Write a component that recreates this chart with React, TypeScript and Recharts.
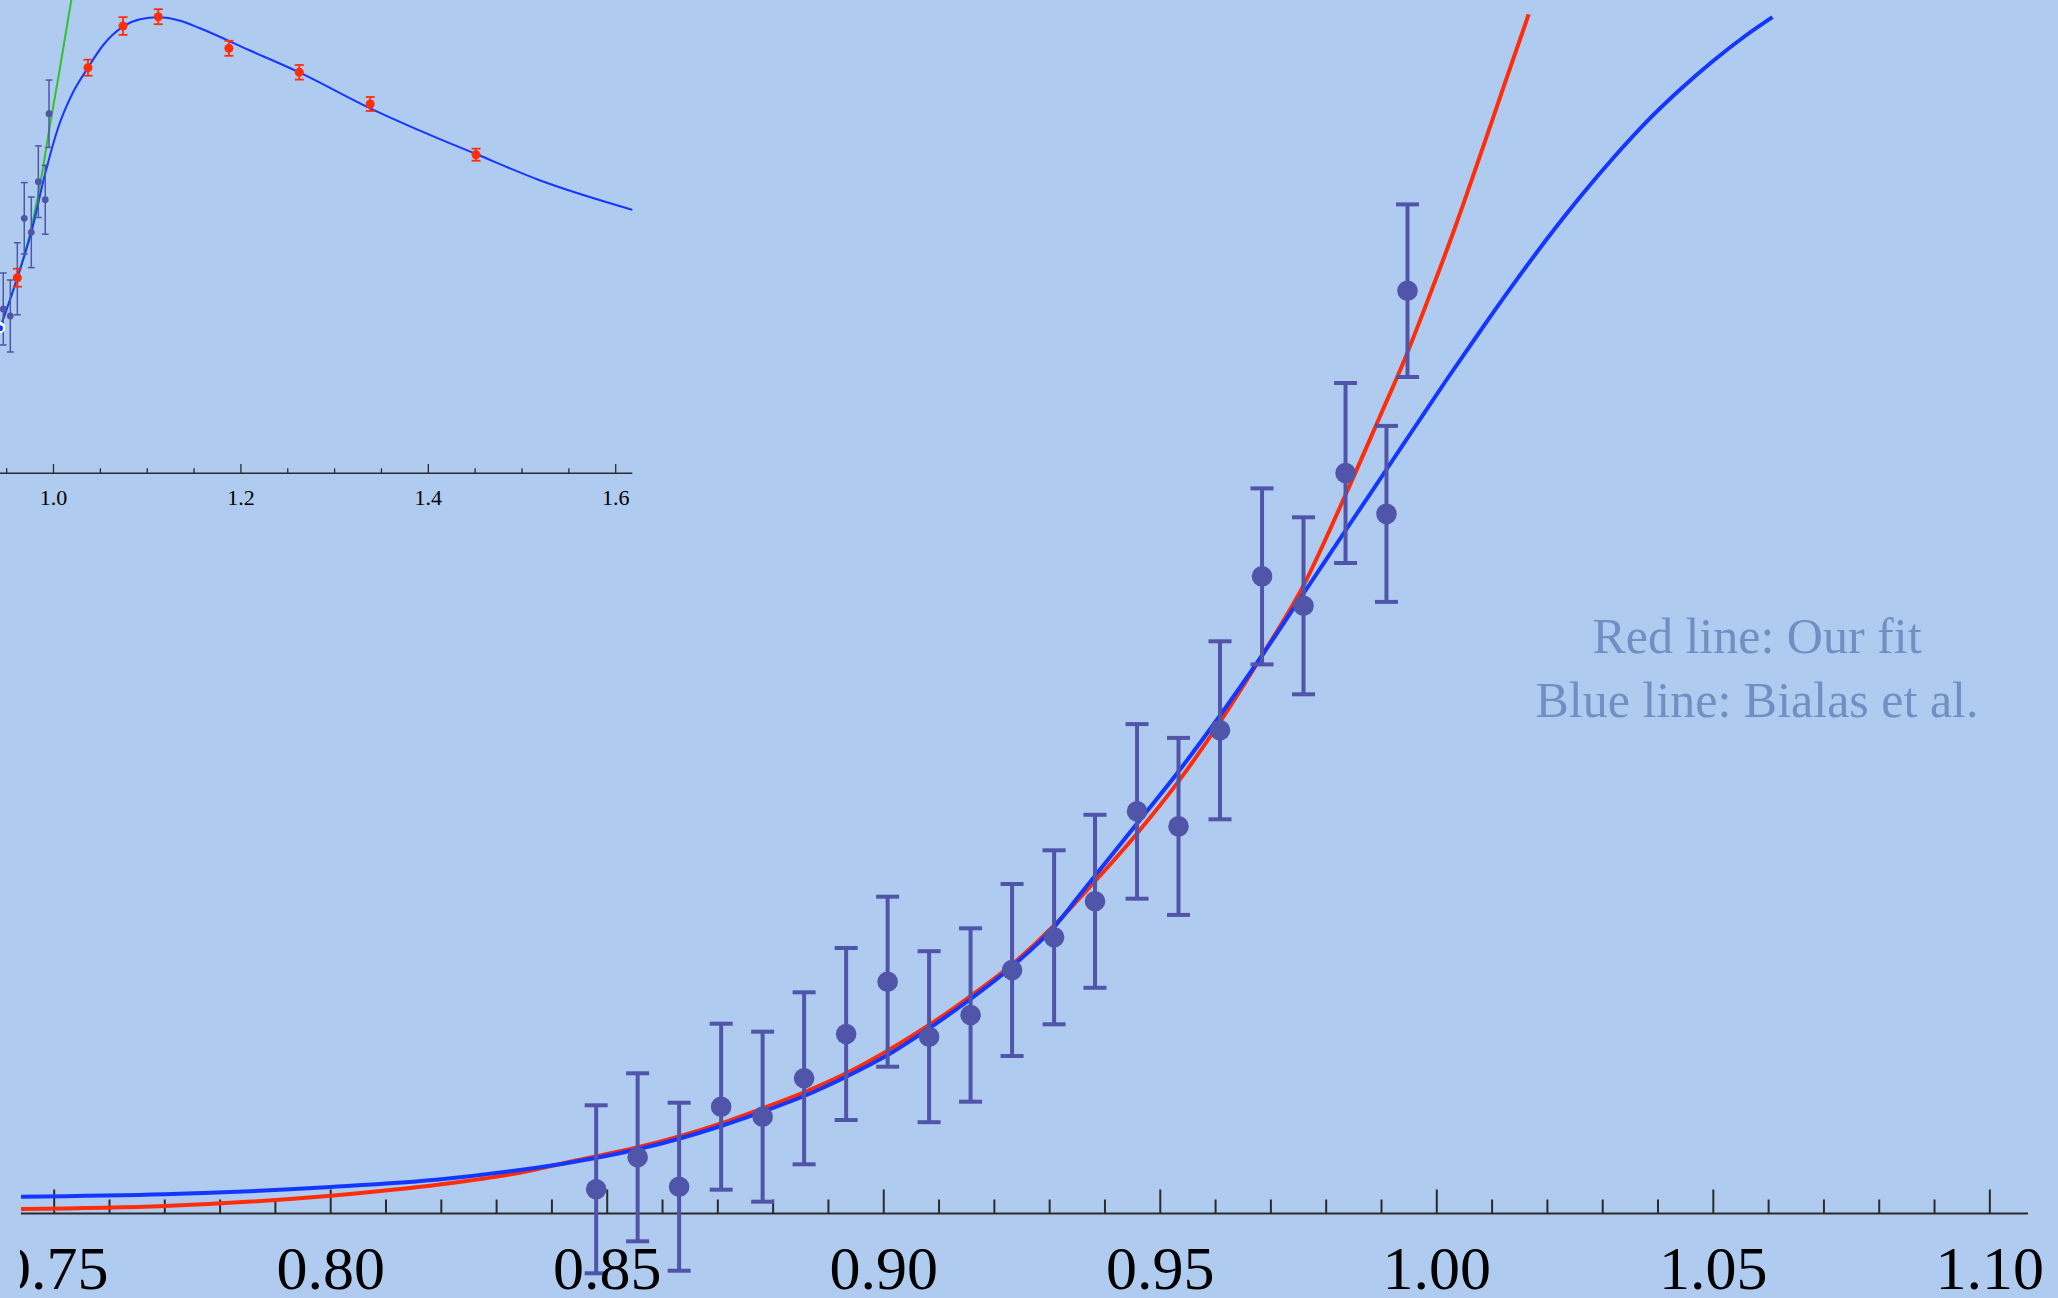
import React from "react";
import { ComposedChart, ErrorBar, Line, ReferenceLine, Scatter, XAxis, YAxis } from "recharts";

// main panel: lattice points with errors
const pointT = [0.848, 0.8555, 0.863, 0.8706, 0.8781, 0.8856, 0.8932, 0.9007, 0.9082, 0.9157, 0.9232, 0.9308, 0.9382, 0.9458, 0.9533, 0.9608, 0.9684, 0.9759, 0.9835, 0.9909, 0.9947];
const pointValue = [0.242, 0.562, 0.268, 1.068, 0.968, 1.352, 1.795, 2.318, 1.768, 1.985, 2.435, 2.762, 3.122, 4.021, 3.871, 4.832, 6.371, 6.077, 7.405, 6.996, 9.228];
const pointError = [0.84, 0.84, 0.84, 0.83, 0.85, 0.86, 0.86, 0.85, 0.855, 0.867, 0.86, 0.87, 0.865, 0.873, 0.885, 0.89, 0.88, 0.885, 0.9, 0.88, 0.863];

// red line: our fit
const redT = [0.744, 0.77, 0.8, 0.82, 0.8342, 0.8433, 0.8555, 0.8706, 0.8781, 0.8856, 0.8932, 0.9007, 0.9082, 0.9157, 0.9232, 0.9308, 0.9355, 0.9458, 0.9533, 0.9608, 0.9684, 0.9759, 0.9835, 0.9897, 0.9942, 0.9987, 1.0033, 1.0078, 1.012, 1.0166];
const redValue = [0.045, 0.075, 0.178, 0.292, 0.408, 0.518, 0.662, 0.902, 1.052, 1.212, 1.402, 1.628, 1.885, 2.175, 2.49, 2.88, 3.159, 3.8, 4.321, 4.915, 5.58, 6.28, 7.187, 7.968, 8.543, 9.18, 9.86, 10.573, 11.253, 11.99];

// blue line: Bialas et al.
const blueT = [0.744, 0.77, 0.8, 0.82, 0.8342, 0.8433, 0.8555, 0.8706, 0.8781, 0.8856, 0.8932, 0.9007, 0.9082, 0.9157, 0.9232, 0.9308, 0.9355, 0.9458, 0.9533, 0.9608, 0.9684, 0.9759, 0.9835, 0.9909, 0.9961, 1.0018, 1.0078, 1.0138, 1.0199, 1.0259, 1.0319, 1.038, 1.044, 1.05, 1.056, 1.0607];
const blueValue = [0.168, 0.192, 0.265, 0.342, 0.435, 0.51, 0.642, 0.875, 1.018, 1.175, 1.368, 1.585, 1.852, 2.145, 2.47, 2.865, 3.19, 3.9, 4.42, 4.98, 5.58, 6.2, 6.83, 7.44, 7.87, 8.34, 8.82, 9.288, 9.745, 10.165, 10.555, 10.921, 11.239, 11.527, 11.785, 11.964];

const majorTicks = [0.75, 0.8, 0.85, 0.9, 0.95, 1.0, 1.05, 1.1];
const minorTicks = [0.76, 0.77, 0.78, 0.79, 0.81, 0.82, 0.83, 0.84, 0.86, 0.87, 0.88, 0.89, 0.91, 0.92, 0.93, 0.94, 0.96, 0.97, 0.98, 0.99, 1.01, 1.02, 1.03, 1.04, 1.06, 1.07, 1.08, 1.09];

// inset panel
const insetLatticeT = [0.9464, 0.9539, 0.9614, 0.9688, 0.9763, 0.9838, 0.9912, 0.9952];
const insetLatticeValue = [3.286, 3.146, 3.89, 5.1, 4.82, 5.832, 5.472, 7.192];
const insetLatticeError = [0.72, 0.72, 0.72, 0.714, 0.706, 0.716, 0.69, 0.673];

const insetRedT = [0.9614, 1.0368, 1.0742, 1.1118, 1.1872, 1.2623, 1.338, 1.4509];
const insetRedValue = [3.912, 8.112, 8.946, 9.132, 8.5, 8.02, 7.386, 6.372];
const insetRedError = [0.18, 0.16, 0.177, 0.15, 0.15, 0.146, 0.14, 0.12];

const insetBlueT = [0.9429, 0.9614, 0.9763, 0.9912, 1.0053, 1.0194, 1.0368, 1.0531, 1.0742, 1.0923, 1.1118, 1.135, 1.1563, 1.2084, 1.2623, 1.338, 1.3854, 1.4509, 1.5181, 1.6185];
const insetBlueValue = [2.9, 3.912, 4.82, 6.0, 6.932, 7.566, 8.112, 8.566, 8.932, 9.08, 9.12, 9.052, 8.9, 8.466, 8.02, 7.3, 6.9, 6.386, 5.866, 5.266];

const insetGreenT = [0.9429, 0.9614, 0.9763, 0.9856, 0.9963, 1.0069, 1.019];
const insetGreenValue = [2.926, 3.906, 4.906, 5.766, 6.966, 8.106, 9.466];

const insetMajorTicks = [1.0, 1.2, 1.4, 1.6];
const insetMinorTicks = [0.95, 1.05, 1.1, 1.15, 1.25, 1.3, 1.35, 1.45, 1.5, 1.55];

const zip = (xs: number[], ys: number[], es?: number[]) =>
  xs.map((x, i) => ({ x, y: ys[i], err: es ? es[i] : 0 }));

const points = zip(pointT, pointValue, pointError);
const redFit = zip(redT, redValue);
const blueFit = zip(blueT, blueValue);
const insetLattice = zip(insetLatticeT, insetLatticeValue, insetLatticeError);
const insetRed = zip(insetRedT, insetRedValue, insetRedError);
const insetBlue = zip(insetBlueT, insetBlueValue);
const insetGreen = zip(insetGreenT, insetGreenValue);

const SERIF = "'Liberation Serif', 'Times New Roman', serif";
const PURPLE = "#5055aa";
const RED = "#ff2d0a";
const BLUE = "#1437ff";
const AXIS = "#2b2b2b";

const MainTick = (props: any) => (
  <text x={props.x} y={props.y} dy={47} textAnchor="middle" fontFamily={SERIF} fontSize={62} fill="#000">
    {Number(props.payload.value).toFixed(2)}
  </text>
);

const InsetTick = (props: any) => (
  <text x={props.x} y={props.y} dy={32} textAnchor="middle" fontFamily={SERIF} fontSize={22} fill="#000">
    {Number(props.payload.value).toFixed(1)}
  </text>
);

const dot = (r: number, fill: string) => (props: any) =>
  <circle cx={props.cx} cy={props.cy} r={r} fill={fill} />;

export default function App() {
  return (
    <div style={{ position: "relative", width: 2058, height: 1298, background: "#b0cbf0", overflow: "hidden" }}>
      <style>{"body{margin:0}"}</style>

      <div style={{ position: "absolute", left: 0, top: 0, clipPath: "inset(0 0 0 20px)" }}>
        <ComposedChart width={2058} height={1298} margin={{ top: 10.5, right: 30, bottom: 0, left: 21 }}>
          <XAxis
            type="number"
            dataKey="x"
            domain={[0.744, 1.1069]}
            allowDataOverflow
            ticks={majorTicks}
            interval={0}
            axisLine={false}
            tickLine={false}
            tickSize={0}
            tickMargin={0}
            height={56.3}
            tick={MainTick}
          />
          <YAxis type="number" hide domain={[-0.282, 12.03]} allowDataOverflow />
          <ReferenceLine y={0} stroke={AXIS} strokeWidth={2.2} />
          {majorTicks.map((t) => (
            <ReferenceLine key={"M" + t} segment={[{ x: t, y: 0 }, { x: t, y: 0.24 }]} stroke={AXIS} strokeWidth={2} />
          ))}
          {minorTicks.map((t) => (
            <ReferenceLine key={"m" + t} segment={[{ x: t, y: 0 }, { x: t, y: 0.14 }]} stroke={AXIS} strokeWidth={2} />
          ))}
          <Line data={redFit} dataKey="y" type="monotone" stroke={RED} strokeWidth={4} dot={false} isAnimationActive={false} />
          <Line data={blueFit} dataKey="y" type="monotone" stroke={BLUE} strokeWidth={4} dot={false} isAnimationActive={false} />
          <Scatter data={points} dataKey="y" fill={PURPLE} shape={dot(10.3, PURPLE)} isAnimationActive={false}>
            <ErrorBar dataKey="err" direction="y" width={11.5} strokeWidth={4} stroke={PURPLE} isAnimationActive={false} />
          </Scatter>
        </ComposedChart>
      </div>

      <div style={{ position: "absolute", left: 0, top: 0 }}>
        <ComposedChart width={640} height={520} margin={{ top: 0, right: 7.7, bottom: 0, left: 0 }}>
          <XAxis
            type="number"
            dataKey="x"
            domain={[0.9429, 1.6177]}
            allowDataOverflow
            ticks={insetMajorTicks}
            interval={0}
            axisLine={{ stroke: AXIS, strokeWidth: 1.4 }}
            tickLine={false}
            tickSize={0}
            tickMargin={0}
            height={46.7}
            tick={InsetTick}
          />
          <YAxis type="number" hide domain={[0, 9.466]} allowDataOverflow />
          {insetMajorTicks.map((t) => (
            <ReferenceLine key={"IM" + t} segment={[{ x: t, y: 0 }, { x: t, y: 0.186 }]} stroke={AXIS} strokeWidth={1.3} />
          ))}
          {insetMinorTicks.map((t) => (
            <ReferenceLine key={"Im" + t} segment={[{ x: t, y: 0 }, { x: t, y: 0.1 }]} stroke={AXIS} strokeWidth={1.3} />
          ))}
          <Line data={insetGreen} dataKey="y" type="monotone" stroke="#2fc32f" strokeWidth={2} dot={false} isAnimationActive={false} />
          <Line data={insetBlue} dataKey="y" type="monotone" stroke={BLUE} strokeWidth={2} dot={false} isAnimationActive={false} />
          <Scatter data={insetLattice} dataKey="y" fill={PURPLE} shape={dot(3.4, PURPLE)} isAnimationActive={false}>
            <ErrorBar dataKey="err" direction="y" width={3.4} strokeWidth={1.5} stroke={PURPLE} isAnimationActive={false} />
          </Scatter>
          <Scatter data={insetRed} dataKey="y" fill={RED} shape={dot(4.5, RED)} isAnimationActive={false}>
            <ErrorBar dataKey="err" direction="y" width={4.5} strokeWidth={1.8} stroke={RED} isAnimationActive={false} />
          </Scatter>
        </ComposedChart>
      </div>

      <div
        style={{
          position: "absolute",
          left: 1357,
          top: 603.8,
          width: 800,
          textAlign: "center",
          fontFamily: SERIF,
          fontSize: 50,
          lineHeight: "64px",
          color: "#7090c4",
        }}
      >
        <div>Red line: Our fit</div>
        <div>Blue line: Bialas et al.</div>
      </div>
    </div>
  );
}
